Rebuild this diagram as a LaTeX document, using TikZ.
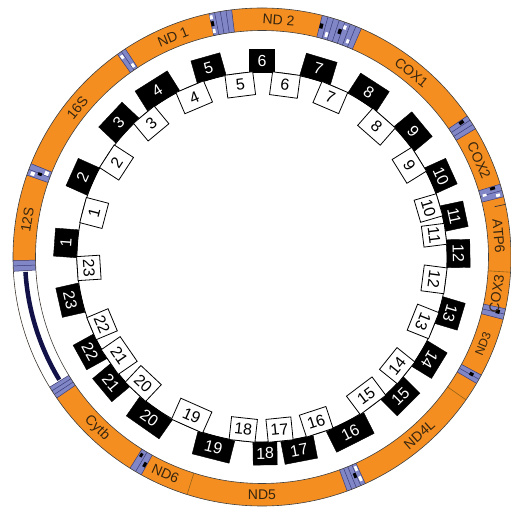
\documentclass[tikz,border=0pt]{standalone}
\usepackage{fontspec}
\setmainfont{Liberation Sans}
\definecolor{orng}{RGB}{245,142,32}
\definecolor{trna}{RGB}{128,134,198}
\definecolor{trnaline}{RGB}{58,60,118}
\definecolor{navy}{RGB}{18,18,72}
\definecolor{tickc}{RGB}{150,100,25}
\definecolor{labc}{RGB}{55,38,15}
\newcommand\sect[5]{\fill[#5] (#1:#3pt) arc[start angle=#1,end angle=#2,radius=#3pt] -- (#2:#4pt) arc[start angle=#2,end angle=#1,radius=#4pt] -- cycle;}
\newcommand\trnaband[3]{%
  \sect{#1}{#2}{226.5}{249}{trna}
  \foreach \k in {0,...,#3}{\pgfmathsetmacro\ang{#1+\k*(#2-#1)/#3}\draw[trnaline,line width=0.5pt] (\ang:226.5pt) -- (\ang:249pt);}}
\tikzset{
  blackbox/.style={fill=black,draw=black,text=white,minimum height=23pt,inner sep=0pt,font=\fontsize{16}{16}\selectfont},
  whitebox/.style={fill=white,draw=black,line width=0.8pt,text=black,minimum height=23pt,inner sep=0pt,font=\fontsize{16}{16}\selectfont},
  genelab/.style={text=labc,inner sep=0pt,font=\fontsize{14}{14}\selectfont}
}
\begin{document}
\begin{tikzpicture}
\useasboundingbox (-262pt,-251pt) rectangle (249pt,257pt);
% outer gene ring
\sect{0}{360}{226.5}{249}{orng}
% control region
\sect{183.3}{211.5}{226.5}{249}{white}
\draw[navy,line width=4.5pt] (183.6:237pt) arc[start angle=183.6,end angle=211.2,radius=237pt];
% tRNA bands
\trnaband{180.8}{183.3}{2}
\trnaband{158}{160.8}{2}
\trnaband{123.3}{125.5}{2}
\trnaband{97}{102.3}{4}
\trnaband{66.5}{76}{7}
\trnaband{31}{34.5}{3}
\trnaband{14}{17}{2}
\trnaband{-14.5}{-12}{2}
\trnaband{-30.5}{-28.3}{2}
\trnaband{-70}{-65.5}{4}
\trnaband{238}{241}{2}
\trnaband{211.5}{214.5}{3}
% small marks in tRNA bands
\sect{158.3}{159.3}{229}{233}{white}
\sect{159.6}{160.5}{242}{246}{white}
\sect{159.2}{159.9}{235}{239}{black}
\sect{123.6}{124.3}{229}{233}{white}
\sect{124.6}{125.3}{242}{246}{white}
\sect{101.6}{102.3}{236}{241}{black}
\sect{101.6}{102.3}{229}{233}{white}
\sect{101.6}{102.3}{243}{247}{white}
\sect{75.2}{76}{236}{241}{black}
\sect{70.6}{71.4}{236}{241}{black}
\sect{73.5}{74.2}{229}{234}{white}
\sect{69.8}{70.5}{242}{246}{white}
\sect{68}{68.7}{230}{234}{white}
\sect{33.6}{34.4}{238}{243}{black}
\sect{16.2}{16.9}{238}{243}{black}
\sect{14.3}{15}{242}{246}{white}
\sect{15.2}{15.8}{229}{233}{white}
\sect{-13.5}{-12.6}{240}{244}{black}
\sect{-29.6}{-28.8}{238}{242}{black}
\sect{-66.4}{-65.7}{229}{234}{white}
\sect{-66.4}{-65.7}{240}{245}{white}
\sect{-67.3}{-66.6}{235}{240}{black}
\sect{240.2}{240.9}{236}{241}{black}
\sect{238.3}{239}{230}{234}{black}
% thin gene boundaries
\draw[tickc,line width=0.6pt] (-3.5:226.5pt) -- (-3.5:249pt);
\draw[tickc,line width=0.6pt] (-35:226.5pt) -- (-35:249pt);
\draw[tickc,line width=0.6pt] (252.5:226.5pt) -- (252.5:249pt);
\draw[black!80,line width=0.7pt] (12.2:238pt) -- (12.2:249pt);
% ring outlines
\draw[black!75,line width=0.6pt] (0,0) circle (249pt);
\draw[black!75,line width=0.6pt] (0,0) circle (226.5pt);
% gene labels
\node[genelab,rotate=81]  (l12s) at (171:237.5pt) {12S};
\node[genelab,rotate=51]  (l16s) at (141:237.5pt) {16S};
\node[genelab,rotate=22]  (lnd1) at (112:237.5pt) {ND 1};
\node[genelab,rotate=-4]  (lnd2) at (86:237.5pt) {ND 2};
\node[genelab,rotate=-39] (lcox1) at (51:237.5pt) {COX1};
\node[genelab,rotate=-66] (lcox2) at (24:237.5pt) {COX2};
\node[genelab,rotate=-85] (latp6) at (5:237.5pt) {ATP6};
\node[genelab,rotate=81]  (lcox3) at (-9:237.5pt) {COX3};
\node[genelab,rotate=68,font=\fontsize{12}{12}\selectfont]  (lnd3) at (-21.5:237.5pt) {ND3};
\node[genelab,rotate=41.5] (lnd4l) at (-48.5:237.5pt) {ND4L};
\node[genelab,rotate=0]   (lnd5) at (-90:237.5pt) {ND5};
\node[genelab,rotate=-24] (lnd6) at (-114:237.5pt) {ND6};
\node[genelab,rotate=-44] (lcytb) at (-134:237.5pt) {Cytb};
% backbone circle
\draw[black,line width=0.8pt] (0,0) circle (185pt);
% black boxes (outer)
\foreach \n/\a/\w/\r in {1/175.9/28/85.9, 2/155.9/30/65.9, 3/136.8/34/46.8, 4/122.2/38/32.2,
  5/105.8/30/15.8, 6/90/25/0, 7/73.3/32/-16.7, 8/57.1/34/-32.9, 9/39.7/32/-50.3,
  10/24.4/28/-65.6, 11/12/26/-78, 12/1/28/-89, 13/-16.7/28/-106.7, 14/-31.5/30/-121.5,
  15/-45.2/32/44.8, 16/-63.3/42/26.7, 17/-79.1/33/10.9, 18/-89.1/24/0.9, 19/-104.3/38/-14.3,
  20/-125/40/-35, 21/-140.2/30/-50.2, 22/-151.1/28/-61.1, 23/-167.3/30/-77.3}
  {\node[blackbox,minimum width=\w pt,rotate=\r] (b\n) at (\a:196.5pt) {\n};}
% white boxes (inner)
\foreach \n/\a/\w/\r in {1/165.3/26/75.3, 2/147/27/57, 3/129.7/27/39.7, 4/113/30/23,
  5/97.2/28/7.2, 6/82.4/28/-7.6, 7/66.8/28/-23.2, 8/48.7/30/-41.3, 9/31.9/28/-58.1,
  10/16.4/23/-73.6, 11/7.2/21/-82.8, 12/-7.4/26/-97.4, 13/-21.8/28/-111.8, 14/-38.8/28/51.2,
  15/-53.1/32/36.9, 16/-71.8/28/18.2, 17/-84.2/25/5.8, 18/-96.2/26/-6.2, 19/-113.9/34/-23.9,
  20/-133.2/28/-43.2, 21/-145.4/30/-55.4, 22/-157.2/24/-67.2, 23/-176.4/24/-86.4}
  {\node[whitebox,minimum width=\w pt,rotate=\r] (w\n) at (\a:173.5pt) {\n};}
\end{tikzpicture}
\end{document}
